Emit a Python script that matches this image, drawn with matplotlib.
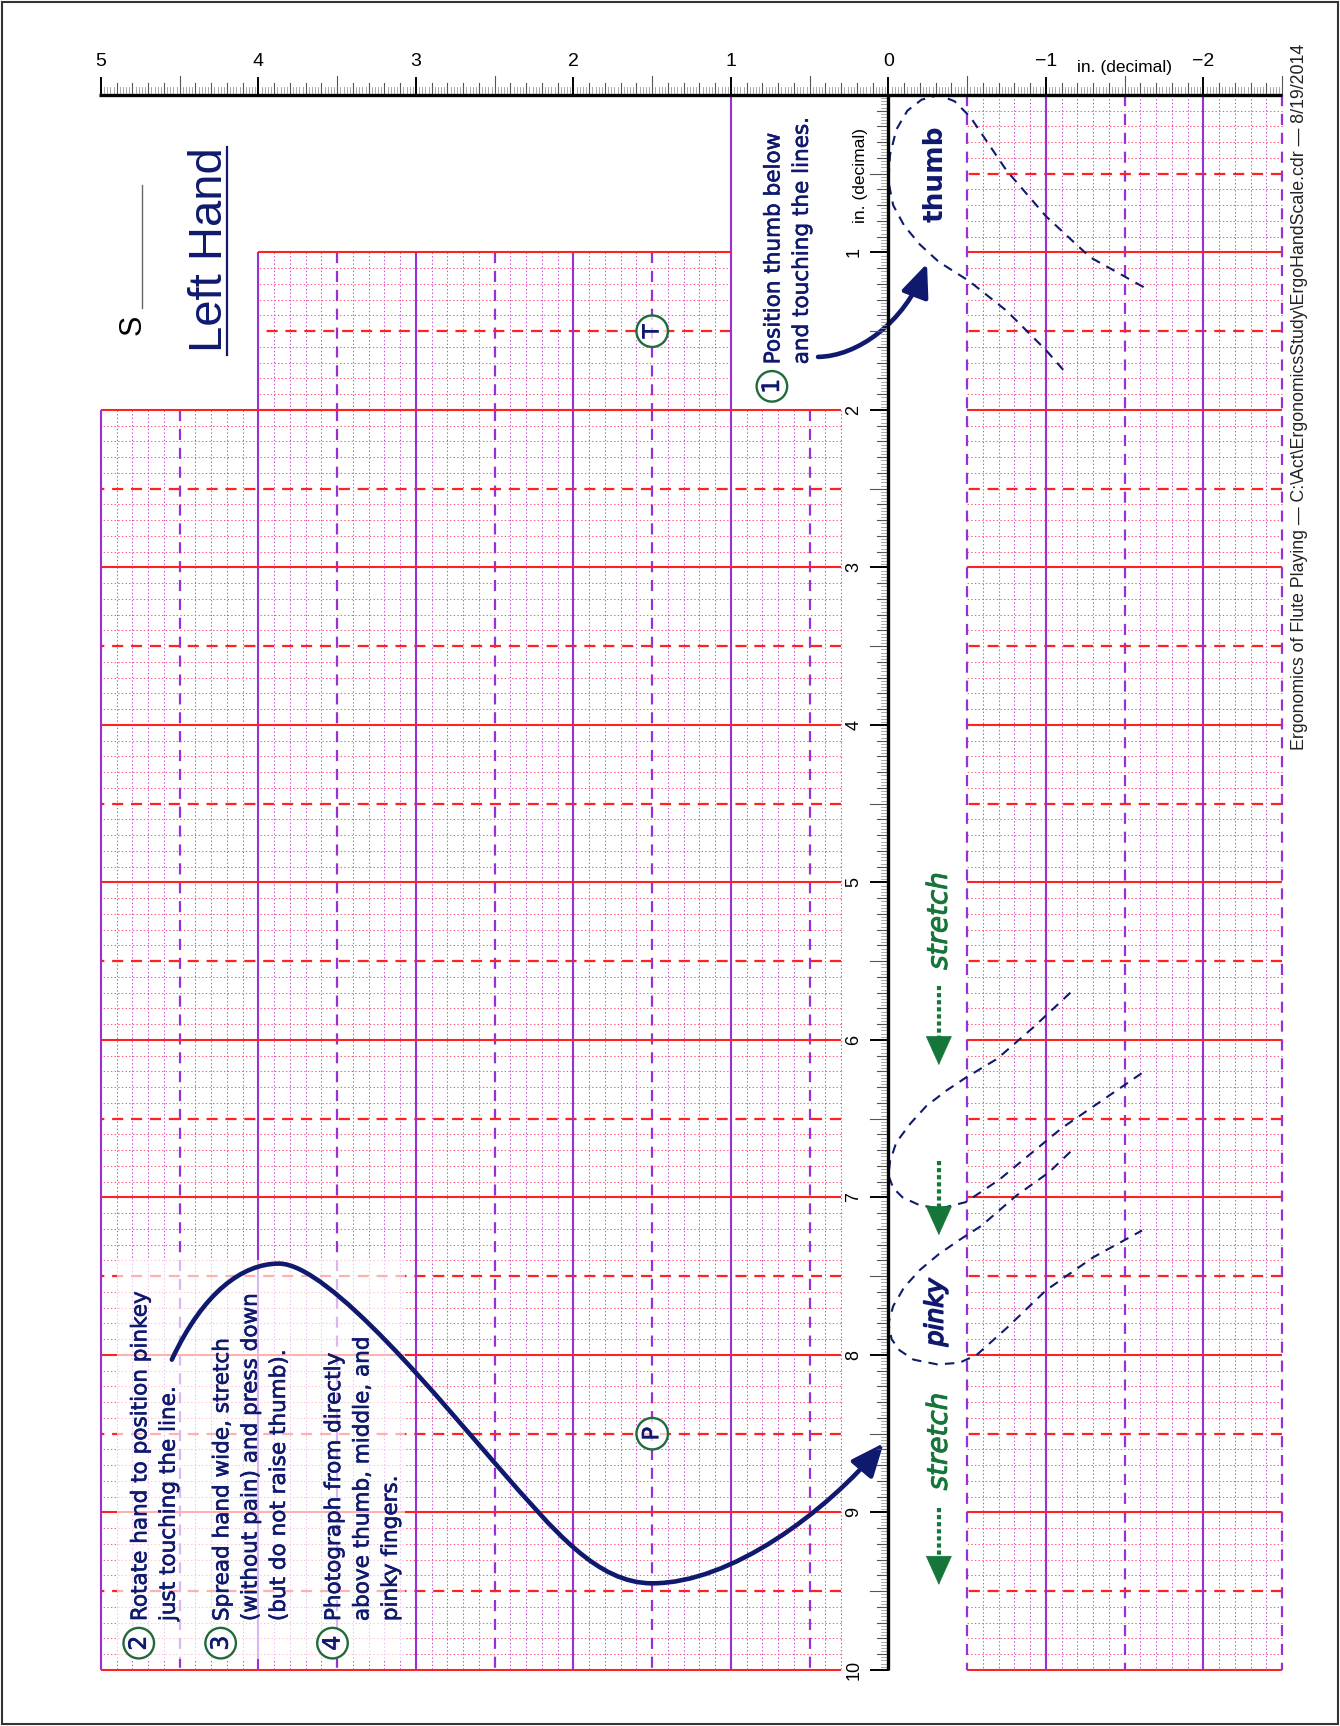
import numpy as np
import matplotlib
matplotlib.use('Agg')
import matplotlib.pyplot as plt
import matplotlib.patheffects as pe
from matplotlib.patches import Circle, Rectangle, FancyArrowPatch
from matplotlib.path import Path

# ---- data (inches on the hand scale) ----
top_ticks = [5, 4, 3, 2, 1, 0, -1, -2]
top_labels = ['5', '4', '3', '2', '1', '0', '\u22121', '\u22122']
side_ticks = [1, 2, 3, 4, 5, 6, 7, 8, 9, 10]
side_labels = [str(v) for v in side_ticks]

# grid blocks: x from / to, y from / to
block_x0 = [1.0, 0.3, -2.5]
block_x1 = [4.0, 5.0, -0.5]
block_y0 = [1.0, 2.0, 0.0]
block_y1 = [2.0, 10.0, 10.0]

# circled marks
mark_text = ['T', 'P']
mark_x = [1.5, 1.5]
mark_y = [1.5, 8.5]

step_num = ['1', '2', '3', '4']
step_x = [0.74, 4.76, 4.24, 3.53]
step_y = [1.85, 9.83, 9.83, 9.83]
step_lines = [
    ['Position thumb below', 'and touching the lines.'],
    ['Rotate hand to position pinkey', 'just touching the line.'],
    ['Spread hand wide, stretch', '(without pain) and press down',
     '(but do not raise thumb).'],
    ['Photograph from directly', 'above thumb, middle, and', 'pinky fingers.'],
]

# finger outlines (dashed)
thumb_x = [-1.62, -1.28, -1.0, -0.75, -0.52, -0.42, -0.32, -0.21, -0.12, -0.05,
           -0.01, 0.0, -0.03, -0.1, -0.2, -0.32, -0.51, -0.75, -1.0, -1.14]
thumb_y = [1.22, 1.03, 0.77, 0.48, 0.14, 0.04, 0.0, 0.03, 0.1, 0.22,
           0.38, 0.55, 0.7, 0.83, 0.95, 1.06, 1.18, 1.37, 1.62, 1.78]
middle_x = [-1.155, -0.92, -0.69, -0.49, -0.37, -0.24, -0.14, -0.05, -0.01, 0.0,
            -0.03, -0.09, -0.2, -0.33, -0.49, -0.7, -1.1, -1.61]
middle_y = [5.70, 5.92, 6.12, 6.24, 6.32, 6.42, 6.53, 6.65, 6.77, 6.86,
            6.94, 7.0, 7.05, 7.07, 7.03, 6.89, 6.56, 6.21]
pinky_x = [-1.155, -1.02, -0.81, -0.59, -0.45, -0.32, -0.2, -0.1, -0.03, 0.0,
           -0.02, -0.07, -0.16, -0.31, -0.45, -0.56, -0.75, -1.0, -1.3, -1.61]
pinky_y = [6.71, 6.84, 6.99, 7.18, 7.27, 7.36, 7.46, 7.57, 7.69, 7.8,
           7.9, 7.97, 8.03, 8.06, 8.05, 8.0, 7.83, 7.59, 7.38, 7.21]

# big S arrow (bezier anchors and handles)
s_arrow_x = [4.55, 4.35, 4.1, 3.87, 3.55, 2.82, 2.47, 2.12, 1.85, 1.5, 1.0, 0.4, 0.03]
s_arrow_y = [8.03, 7.6, 7.42, 7.42, 7.42, 8.32, 8.72, 9.12, 9.45, 9.45, 9.45, 9.0, 8.56]
thumb_arrow_x = [0.447, 0.2, -0.1, -0.245]
thumb_arrow_y = [1.663, 1.66, 1.45, 1.07]

# stretch arrows
stretch_x = -0.32
stretch_start = [5.66, 6.77, 8.97]
stretch_tip = [6.16, 7.24, 9.46]
stretch_text_y = [5.245, 8.55]

footer = ('Ergonomics of Flute Playing \u2014 C:\\Act\\ErgonomicsStudy\\'
          'ErgoHandScale.cdr \u2014 8/19/2014')

# ---- colours ----
RED = '#ff2222'
RED_DOT = '#ff5577'
PURPLE = '#9a2fd6'
PURPLE_DOT = '#c84ad6'
NAVY = '#0f1a6e'
GREEN = '#1f6b3a'
GREEN2 = '#16763a'
SANS = 'Liberation Sans'
HAND = 'DejaVu Sans'
thick = [pe.withStroke(linewidth=0.45, foreground=NAVY)]

fig = plt.figure(figsize=(13.4, 17.26), dpi=100)
ax = fig.add_axes([0, 0, 1, 1])
ax.set_xlim(5.641, -2.867)
ax.set_ylim(10.356, -0.603)
ax.axis('off')


def grid_line(ax, k, xs, ys, horiz):
    col = RED if horiz else PURPLE
    dcol = RED_DOT if horiz else PURPLE_DOT
    if k % 10 == 0:
        ax.plot(xs, ys, color=col, lw=1.5, solid_capstyle='butt',
                zorder=1.8 if horiz else 1.7)
    elif k % 5 == 0:
        ax.plot(xs, ys, color=col, lw=1.6, dashes=(5, 3.5),
                zorder=1.6 if horiz else 1.5)
    else:
        ax.plot(xs, ys, color=dcol, lw=0.75, dashes=(1.3, 2.2), zorder=1)


for x0, x1, y0, y1 in zip(block_x0, block_x1, block_y0, block_y1):
    for k in range(int(round(x0 * 10)), int(round(x1 * 10)) + 1):
        grid_line(ax, k, [k / 10, k / 10], [y0, y1], False)
    for k in range(int(round(y0 * 10)), int(round(y1 * 10)) + 1):
        grid_line(ax, k, [x0, x1], [k / 10, k / 10], True)
# purple line x=1 up to the ruler
ax.plot([1, 1], [0, 1], color=PURPLE, lw=1.5, zorder=1.7)

# ---- rulers ----
def tick_len(k):
    if k % 50 == 0:
        return 0.11, 'black', 1.4
    if k % 25 == 0:
        return 0.12, '#555555', 0.8
    if k % 5 == 0:
        return 0.075, '#555555', 0.8
    return 0.05, '#9a9a9a', 0.6


for k in range(-125, 251):
    h, c, w = tick_len(k)
    ax.plot([k / 50, k / 50], [0, -h], color=c, lw=w, zorder=7)
for k in range(0, 501):
    h, c, w = tick_len(k)
    ax.plot([0, h], [k / 50, k / 50], color=c, lw=w, zorder=7)
ax.plot([5.01, -2.5], [0, 0], color='black', lw=2.4, zorder=8, solid_capstyle='butt')
ax.plot([0, 0], [0, 10.0], color='black', lw=2.4, zorder=8, solid_capstyle='butt')

for v, s in zip(top_ticks, top_labels):
    ax.text(v, -0.21, s, ha='center', va='center', fontsize=14,
            family=SANS, zorder=8)
ax.text(-1.5, -0.175, 'in. (decimal)', ha='center', va='center', fontsize=12.5,
        family=SANS, zorder=8)
for v, s in zip(side_ticks, side_labels):
    ax.text(0.22, v, s, ha='center', va='center', rotation=90,
            rotation_mode='anchor', fontsize=13, family=SANS, zorder=8)
ax.text(0.18, 0.51, 'in. (decimal)', ha='center', va='center', rotation=90,
        rotation_mode='anchor', fontsize=12.5, family=SANS, zorder=8)

# ---- title ----
ax.text(4.232, 0.984, 'Left Hand', ha='center', va='baseline', rotation=90,
        rotation_mode='anchor', fontsize=34, family=SANS, color=NAVY)
ax.plot([4.202, 4.202], [0.33, 1.65], color=NAVY, lw=1.6)
ax.text(4.746, 1.46, 'S', ha='center', va='baseline', rotation=90,
        rotation_mode='anchor', fontsize=22, family=SANS, color='black')
ax.plot([4.74, 4.74], [0.57, 1.35], color='#666666', lw=1.0)

# ---- white veil behind steps 2-4 ----
ax.add_patch(Rectangle((3.07, 7.40), 4.9 - 3.07, 9.93 - 7.40, fc='white',
                       ec='none', alpha=0.65, zorder=2))

# ---- circled marks and steps ----
def circled(x, y, s, r, fs):
    ax.add_patch(Circle((x, y), r, fc=(1, 1, 1, 0.75), ec=GREEN, lw=1.7, zorder=5))
    ax.text(x, y, s, ha='center', va='center', rotation=90, rotation_mode='anchor',
            fontsize=fs, family=HAND, color=NAVY, zorder=6, path_effects=thick)


for s, x, y in zip(mark_text, mark_x, mark_y):
    circled(x, y, s, 0.1, 16)

for num, cx, cy, lines in zip(step_num, step_x, step_y, step_lines):
    circled(cx, cy, num, 0.097, 17)
    for i, line in enumerate(lines):
        ax.text(cx - 0.01 - i * 0.18, cy - 0.14, line, ha='left', va='center',
                rotation=90, rotation_mode='anchor', fontsize=15.5, family=HAND,
                color=NAVY, zorder=6, path_effects=thick)

# ---- finger outlines ----
for fx, fy in [(thumb_x, thumb_y), (middle_x, middle_y), (pinky_x, pinky_y)]:
    ax.plot(fx, fy, color=NAVY, lw=1.5, dashes=(4.5, 3.5), zorder=6)

ax.text(-0.30, 0.50, 'thumb', ha='center', va='center', rotation=90,
        rotation_mode='anchor', fontsize=19, family=HAND, fontweight='bold',
        color=NAVY, zorder=6)
ax.text(-0.30, 7.73, 'pinky', ha='center', va='center', rotation=90,
        rotation_mode='anchor', fontsize=18, family=HAND, style='italic',
        color=NAVY, zorder=6, path_effects=[pe.withStroke(linewidth=1.2, foreground=NAVY)])

# ---- arrows ----
codes = [Path.MOVETO] + [Path.CURVE4] * (len(s_arrow_x) - 1)
p = Path(list(zip(s_arrow_x, s_arrow_y)), codes)
ax.add_patch(FancyArrowPatch(path=p, arrowstyle='-|>,head_length=20,head_width=8.5',
                             mutation_scale=1, color=NAVY, lw=3.3, zorder=6))
codes = [Path.MOVETO] + [Path.CURVE4] * (len(thumb_arrow_x) - 1)
p = Path(list(zip(thumb_arrow_x, thumb_arrow_y)), codes)
ax.add_patch(FancyArrowPatch(path=p, arrowstyle='-|>,head_length=20,head_width=8.5',
                             mutation_scale=1, color=NAVY, lw=3.3, zorder=6))

for y0, y1 in zip(stretch_start, stretch_tip):
    ax.plot([stretch_x, stretch_x], [y0, y1 - 0.16], color=GREEN2, lw=3,
            dashes=(1, 0.7), zorder=6)
    ax.add_patch(FancyArrowPatch((stretch_x, y1 - 0.03), (stretch_x, y1),
                                 arrowstyle='-|>,head_length=20,head_width=9',
                                 mutation_scale=1, color=GREEN2, lw=0.5,
                                 shrinkA=0, shrinkB=0, zorder=6))
for y in stretch_text_y:
    ax.text(stretch_x, y, 'stretch', ha='center', va='center', rotation=90,
            rotation_mode='anchor', fontsize=20, family=HAND, style='italic',
            color=GREEN2, zorder=6,
            path_effects=[pe.withStroke(linewidth=0.7, foreground=GREEN2)])

# ---- footer and page frame ----
ax.text(-2.613, -0.324, footer, ha='right', va='center', rotation=90,
        rotation_mode='anchor', fontsize=12.8, family=SANS, color='#222222')
fig.patches.append(Rectangle((0.0015, 0.0012), 0.997, 0.9976, transform=fig.transFigure,
                             fill=False, ec='#333333', lw=1.5))

fig.savefig('out.png', dpi=100)
